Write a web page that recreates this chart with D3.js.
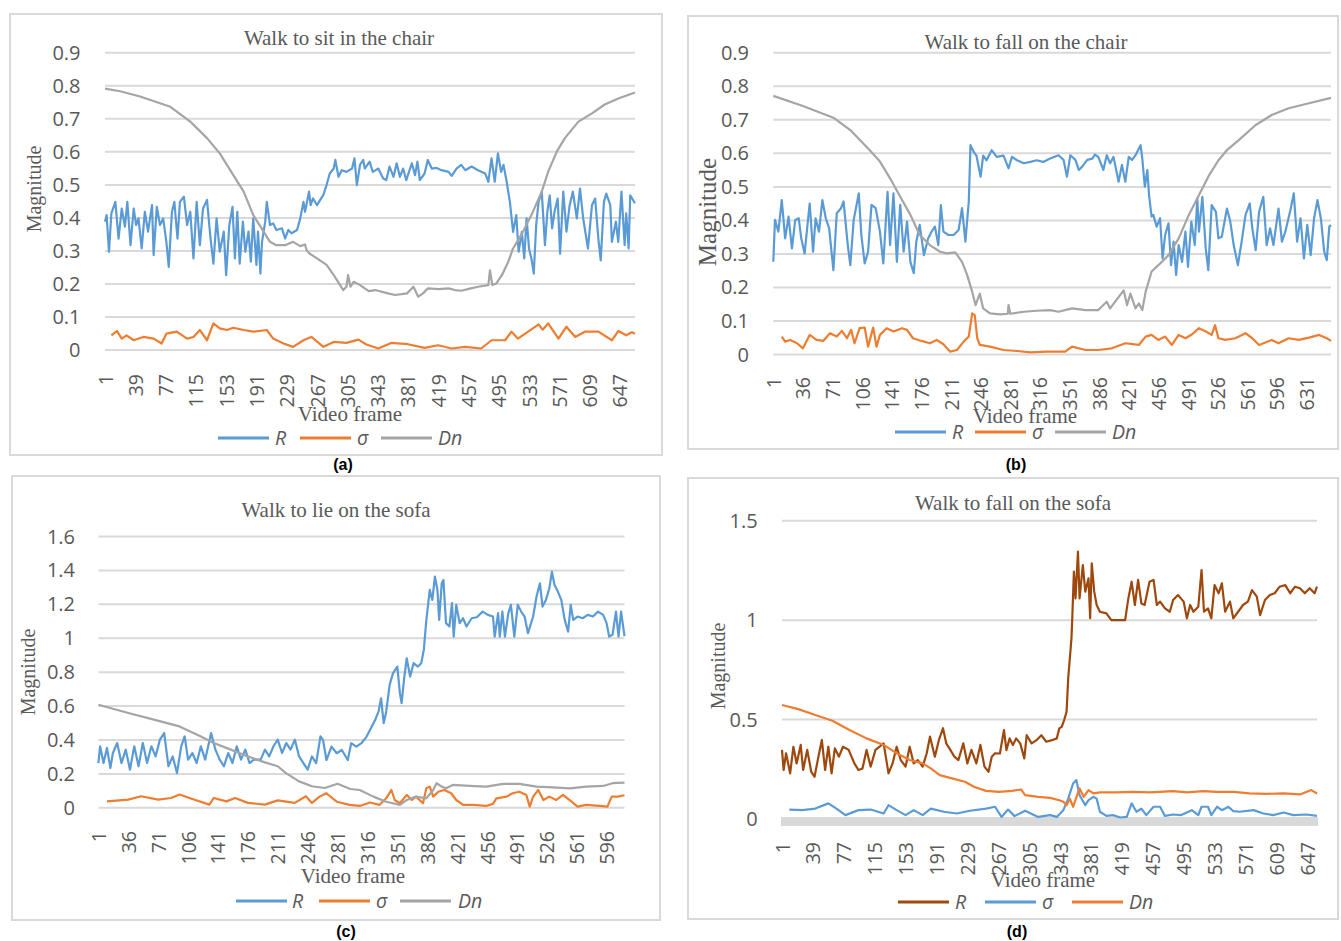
<!DOCTYPE html>
<html><head><meta charset="utf-8">
<script src="https://cdn.jsdelivr.net/npm/d3@7"></script>
<style>body{margin:0;background:#fff}svg{display:block}</style>
</head><body>
<svg id="chart" width="1341" height="941"></svg>
<script>
// ---------------- DATA (frame, value) ----------------
const seriesNames = ["R", "σ", "Dn"];
const titles = ["Walk to sit in the chair", "Walk to fall on the chair", "Walk to lie on the sofa", "Walk to fall on the sofa"];
const captions = ["(a)", "(b)", "(c)", "(d)"];
const frameCounts = [666, 660, 617, 659];
const xTicksA = [1,39,77,115,153,191,229,267,305,343,381,419,457,495,533,571,609,647];
const xTicksB = [1,36,71,106,141,176,211,246,281,316,351,386,421,456,491,526,561,596,631];
const xTicksC = [1,36,71,106,141,176,211,246,281,316,351,386,421,456,491,526,561,596];
const xTicksD = [1,39,77,115,153,191,229,267,305,343,381,419,457,495,533,571,609,647];
const yTicksAB = [0,0.1,0.2,0.3,0.4,0.5,0.6,0.7,0.8,0.9];
const yLabelsAB = ["0","0.1","0.2","0.3","0.4","0.5","0.6","0.7","0.8","0.9"];
const yTicksC = [0,0.2,0.4,0.6,0.8,1,1.2,1.4,1.6];
const yLabelsC = ["0","0.2","0.4","0.6","0.8","1","1.2","1.4","1.6"];
const yTicksD = [0,0.5,1,1.5];
const yLabelsD = ["0","0.5","1","1.5"];

const aR = [[1,.387],[3,.407],[6,.296],[9,.412],[14,.447],[18,.336],[22,.427],[26,.372],[29,.447],[33,.316],[37,.427],[40,.377],[43,.397],[47,.306],[51,.417],[55,.357],[60,.437],[62,.286],[66,.432],[70,.377],[74,.397],[78,.326],[81,.25],[85,.417],[88,.447],[92,.336],[95,.447],[100,.463],[104,.377],[108,.417],[112,.276],[116,.447],[120,.316],[124,.427],[129,.453],[133,.346],[137,.26],[141,.397],[145,.296],[150,.357],[153,.225],[157,.377],[161,.432],[164,.276],[167,.417],[170,.26],[174,.387],[177,.296],[181,.357],[184,.266],[187,.397],[191,.256],[193,.357],[196,.23],[198,.326],[202,.387],[204,.447],[208,.377],[212,.382],[216,.362],[223,.367],[227,.336],[231,.362],[235,.352],[242,.362],[246,.397],[250,.447],[252,.417],[257,.478],[259,.437],[262,.458],[267,.437],[271,.453],[275,.468],[279,.498],[283,.533],[288,.548],[290,.574],[294,.523],[298,.543],[304,.538],[311,.548],[314,.579],[317,.498],[321,.559],[325,.574],[327,.548],[333,.569],[337,.538],[344,.548],[350,.518],[354,.513],[358,.554],[363,.523],[367,.564],[371,.523],[375,.548],[379,.513],[386,.564],[390,.528],[393,.569],[396,.513],[402,.533],[406,.574],[411,.548],[417,.55],[423,.543],[432,.538],[436,.526],[442,.548],[448,.559],[453,.543],[461,.554],[469,.543],[478,.533],[482,.508],[486,.579],[490,.508],[494,.594],[498,.538],[501,.559],[505,.508],[509,.447],[513,.356],[517,.407],[520,.296],[524,.356],[527,.276],[530,.397],[533,.306],[536,.276],[539,.23],[542,.377],[545,.447],[549,.478],[553,.316],[556,.417],[559,.467],[562,.367],[565,.417],[569,.457],[572,.29],[576,.478],[580,.357],[584,.437],[588,.478],[593,.397],[597,.487],[601,.397],[605,.336],[607,.306],[612,.437],[616,.457],[620,.336],[623,.27],[627,.447],[630,.472],[635,.437],[637,.326],[642,.387],[645,.326],[649,.478],[653,.316],[655,.412],[658,.306],[660,.467],[666,.443]];
const aSigma = [[9,.043],[16,.056],[22,.033],[28,.043],[37,.028],[49,.038],[62,.033],[72,.018],[78,.048],[91,.054],[104,.033],[112,.038],[120,.059],[129,.028],[137,.079],[145,.064],[154,.059],[162,.066],[175,.059],[187,.054],[204,.059],[212,.033],[225,.018],[237,.008],[250,.028],[260,.038],[275,.008],[288,.023],[304,.02],[319,.03],[329,.015],[344,.003],[360,.02],[381,.016],[402,.005],[419,.013],[436,.003],[453,.008],[473,.003],[486,.028],[503,.028],[511,.054],[519,.033],[532,.054],[545,.076],[550,.06],[557,.079],[570,.033],[580,.069],[591,.038],[603,.054],[620,.054],[637,.028],[645,.056],[655,.043],[662,.052],[666,.048]];
const aDn = [[1,.79],[20,.782],[45,.766],[83,.735],[108,.69],[129,.64],[145,.594],[162,.528],[175,.478],[187,.407],[200,.357],[208,.326],[216,.316],[227,.316],[237,.326],[246,.313],[252,.318],[254,.3],[258,.29],[267,.276],[279,.256],[288,.225],[296,.195],[300,.18],[304,.19],[306,.225],[309,.19],[313,.205],[321,.195],[332,.177],[340,.18],[356,.17],[365,.165],[380,.17],[388,.19],[394,.16],[400,.17],[406,.185],[420,.183],[432,.185],[440,.18],[448,.178],[460,.185],[469,.19],[482,.195],[484,.24],[487,.195],[492,.2],[499,.225],[507,.266],[513,.306],[524,.35],[536,.407],[549,.478],[557,.538],[568,.6],[578,.64],[595,.69],[612,.715],[628,.742],[645,.76],[666,.778]];

const bR = [[1,.275],[3,.4],[7,.365],[11,.459],[15,.345],[19,.41],[23,.315],[27,.4],[31,.405],[34,.345],[38,.3],[44,.449],[48,.305],[51,.405],[55,.365],[59,.459],[63,.405],[67,.375],[72,.25],[76,.42],[81,.435],[84,.455],[89,.325],[92,.265],[96,.4],[102,.479],[105,.355],[109,.27],[113,.305],[117,.445],[122,.435],[127,.365],[131,.27],[136,.484],[139,.325],[143,.479],[147,.275],[151,.445],[155,.305],[159,.395],[163,.275],[167,.241],[170,.335],[174,.385],[179,.295],[184,.345],[188,.365],[192,.38],[196,.325],[199,.444],[202,.365],[208,.355],[214,.355],[220,.37],[224,.435],[228,.335],[232,.455],[234,.623],[238,.602],[241,.592],[246,.529],[249,.592],[253,.578],[259,.608],[265,.588],[273,.592],[279,.554],[283,.588],[289,.578],[297,.569],[305,.573],[312,.578],[320,.573],[328,.583],[338,.593],[344,.579],[348,.529],[352,.593],[358,.579],[362,.549],[366,.559],[372,.579],[378,.583],[381,.595],[385,.588],[391,.549],[395,.593],[399,.569],[403,.588],[409,.514],[413,.564],[417,.514],[421,.588],[425,.579],[429,.593],[435,.623],[437,.583],[440,.499],[443,.549],[445,.474],[448,.41],[450,.415],[454,.38],[458,.405],[461,.285],[464,.355],[468,.39],[471,.265],[474,.335],[477,.236],[480,.325],[484,.275],[488,.365],[491,.26],[495,.395],[499,.325],[502,.464],[504,.365],[508,.469],[512,.315],[515,.25],[519,.444],[524,.424],[527,.345],[531,.35],[537,.434],[541,.395],[545,.325],[550,.265],[555,.345],[559,.415],[564,.449],[567,.375],[571,.31],[575,.424],[580,.469],[584,.325],[588,.375],[592,.325],[598,.434],[602,.335],[606,.365],[612,.429],[616,.479],[620,.335],[624,.405],[628,.285],[632,.385],[636,.295],[640,.405],[644,.459],[648,.405],[652,.305],[655,.28],[658,.38],[660,.385]];
const bSigma = [[11,.052],[15,.037],[21,.042],[29,.032],[36,.017],[44,.057],[52,.042],[60,.039],[68,.062],[76,.052],[82,.069],[88,.047],[93,.072],[97,.032],[103,.077],[109,.079],[113,.022],[119,.079],[123,.022],[127,.057],[135,.077],[143,.067],[153,.077],[159,.072],[166,.047],[176,.039],[186,.032],[194,.042],[202,.029],[210,.007],[218,.012],[226,.037],[232,.052],[236,.121],[239,.116],[242,.047],[245,.027],[257,.022],[273,.012],[289,.009],[305,.005],[324,.007],[346,.007],[354,.022],[370,.012],[385,.012],[401,.017],[417,.032],[433,.027],[441,.052],[448,.057],[456,.042],[464,.052],[472,.027],[480,.057],[488,.047],[496,.059],[504,.077],[512,.067],[519,.057],[523,.086],[527,.047],[535,.042],[547,.047],[559,.062],[567,.047],[575,.027],[590,.042],[598,.032],[610,.047],[622,.042],[634,.049],[646,.057],[655,.047],[660,.039]];
const bDn = [[1,.77],[36,.74],[72,.705],[92,.668],[115,.608],[127,.574],[139,.524],[151,.469],[163,.415],[174,.355],[186,.325],[198,.305],[206,.3],[216,.303],[224,.275],[230,.236],[236,.186],[240,.146],[245,.18],[249,.136],[257,.121],[269,.118],[278,.12],[279,.146],[281,.12],[297,.126],[312,.129],[328,.131],[338,.126],[354,.136],[370,.131],[385,.131],[395,.156],[399,.136],[415,.19],[419,.146],[423,.18],[429,.136],[433,.151],[437,.131],[441,.186],[448,.246],[456,.265],[468,.295],[480,.345],[492,.415],[504,.474],[515,.529],[527,.578],[537,.608],[551,.638],[571,.683],[590,.713],[610,.733],[634,.748],[660,.764]];

const cR = [[1,.261],[3,.36],[7,.261],[11,.35],[15,.232],[18,.32],[23,.379],[28,.261],[33,.34],[38,.222],[43,.36],[48,.242],[53,.379],[58,.261],[63,.36],[68,.3],[73,.399],[78,.438],[83,.242],[88,.3],[93,.202],[98,.36],[102,.418],[106,.281],[111,.32],[116,.261],[121,.36],[126,.281],[133,.438],[138,.34],[143,.281],[148,.242],[153,.32],[158,.261],[163,.36],[168,.281],[173,.34],[178,.261],[183,.281],[191,.281],[196,.34],[201,.3],[206,.36],[211,.399],[216,.32],[221,.379],[226,.34],[231,.399],[236,.3],[241,.261],[246,.222],[251,.3],[256,.261],[261,.418],[264,.397],[268,.279],[274,.358],[280,.319],[286,.338],[293,.279],[297,.378],[303,.358],[309,.378],[315,.417],[319,.456],[325,.515],[329,.564],[332,.643],[335,.496],[338,.564],[342,.722],[346,.791],[351,.83],[354,.673],[356,.614],[359,.761],[362,.879],[366,.771],[370,.85],[375,.83],[379,.85],[382,.928],[385,1.105],[389,1.282],[392,1.223],[395,1.361],[398,1.282],[400,1.105],[403,1.321],[405,1.341],[408,1.086],[412,1.066],[415,1.204],[417,1.007],[420,1.194],[424,1.086],[428,1.115],[432,1.066],[438,1.115],[444,1.121],[451,1.154],[457,1.135],[463,1.125],[465,1.007],[469,1.145],[471,1.007],[474,1.154],[477,1.007],[481,1.145],[484,1.194],[488,1.007],[492,1.194],[496,1.154],[500,1.125],[504,1.027],[510,1.125],[514,1.243],[518,1.321],[521,1.184],[525,1.223],[529,1.292],[532,1.39],[535,1.312],[539,1.272],[543,1.223],[547,1.105],[551,1.036],[554,1.194],[557,1.105],[562,1.125],[568,1.115],[574,1.135],[580,1.125],[586,1.154],[592,1.135],[596,1.086],[599,1.007],[603,1.017],[607,1.154],[610,1.007],[613,1.154],[617,1.01]];
const cSigma = [[11,.035],[36,.045],[51,.065],[71,.045],[86,.055],[96,.075],[111,.049],[131,.016],[136,.055],[151,.035],[161,.055],[176,.026],[196,.016],[211,.041],[231,.026],[244,.065],[251,.026],[260,.063],[268,.083],[280,.033],[295,.014],[307,.008],[319,.028],[330,.014],[338,.053],[344,.102],[348,.043],[354,.024],[362,.073],[368,.043],[373,.063],[381,.024],[385,.112],[389,.122],[393,.063],[399,.092],[406,.102],[414,.083],[420,.043],[428,.014],[440,.014],[455,.008],[463,.02],[467,.053],[479,.063],[486,.083],[494,.092],[502,.073],[506,.004],[510,.063],[516,.102],[522,.043],[529,.063],[537,.043],[545,.073],[555,.033],[562,.004],[572,.014],[588,.008],[597,.004],[602,.063],[609,.063],[617,.071]];
const cDn = [[1,.605],[36,.556],[66,.517],[96,.477],[121,.418],[136,.379],[156,.34],[176,.3],[196,.265],[211,.242],[221,.2],[236,.153],[251,.124],[266,.114],[281,.139],[296,.108],[307,.102],[323,.063],[338,.033],[354,.014],[362,.043],[373,.063],[385,.053],[393,.102],[397,.142],[403,.122],[408,.112],[416,.132],[436,.126],[455,.122],[475,.138],[494,.138],[514,.122],[533,.118],[553,.112],[572,.122],[592,.126],[603,.142],[617,.146]];

const dR = [[1,.345],[3,.244],[6,.328],[11,.227],[15,.361],[19,.277],[24,.37],[27,.244],[32,.345],[37,.235],[41,.21],[45,.294],[50,.395],[54,.244],[58,.361],[62,.227],[66,.353],[71,.311],[76,.361],[83,.345],[90,.277],[95,.244],[100,.252],[105,.345],[110,.261],[116,.345],[121,.361],[126,.378],[132,.227],[137,.277],[142,.361],[147,.294],[153,.261],[158,.361],[163,.277],[168,.294],[174,.261],[179,.328],[183,.412],[189,.311],[194,.395],[199,.454],[203,.378],[208,.345],[213,.311],[218,.294],[224,.378],[229,.277],[234,.345],[240,.277],[245,.37],[250,.261],[255,.235],[259,.311],[263,.328],[269,.327],[274,.445],[277,.344],[281,.403],[285,.369],[289,.403],[294,.378],[299,.302],[302,.419],[308,.378],[314,.394],[320,.419],[326,.386],[333,.394],[339,.403],[342,.453],[345,.461],[348,.495],[351,.537],[353,.705],[355,.805],[357,.906],[358,1.007],[360,1.242],[362,1.107],[365,1.342],[367,1.107],[371,1.275],[374,1.141],[378,1.208],[380,1.007],[382,1.284],[385,1.141],[388,1.074],[392,1.04],[400,1.032],[406,.998],[415,.998],[423,.998],[427,1.107],[431,1.191],[435,1.074],[439,1.2],[443,1.082],[447,1.074],[453,1.191],[458,1.2],[462,1.074],[466,1.091],[472,1.057],[478,1.04],[482,1.099],[488,1.124],[495,1.091],[499,1.007],[503,1.074],[507,1.04],[513,1.065],[517,1.25],[520,1.04],[525,1.057],[529,1.007],[533,1.174],[538,1.133],[542,1.183],[546,1.04],[552,1.091],[556,1.007],[562,1.04],[568,1.074],[574,1.091],[579,1.149],[585,1.116],[589,1.023],[595,1.099],[601,1.124],[607,1.133],[613,1.166],[620,1.174],[626,1.133],[632,1.166],[638,1.158],[644,1.133],[650,1.158],[656,1.133],[659,1.166]];
const dSigma = [[10,.045],[26,.042],[42,.05],[58,.076],[68,.05],[79,.017],[95,.042],[110,.045],[126,.025],[132,.067],[142,.042],[153,.017],[163,.042],[174,.017],[184,.05],[200,.034],[216,.025],[232,.039],[252,.05],[263,.059],[271,.008],[279,.045],[287,.012],[300,.039],[316,.008],[331,.017],[339,.008],[347,.042],[353,.1],[359,.176],[363,.193],[367,.117],[374,.067],[378,.092],[384,.109],[388,.1],[392,.034],[400,.013],[408,.017],[417,.005],[425,.008],[431,.076],[437,.034],[443,.05],[449,.017],[458,.059],[466,.059],[472,.013],[482,.02],[492,.017],[505,.042],[513,.017],[517,.059],[525,.059],[529,.017],[536,.059],[542,.042],[550,.059],[556,.037],[564,.034],[581,.042],[593,.025],[605,.017],[618,.03],[630,.017],[646,.02],[659,.013]];
const dDn = [[1,.571],[21,.55],[42,.521],[63,.492],[84,.445],[105,.403],[126,.37],[142,.328],[158,.294],[174,.277],[184,.252],[195,.218],[210,.202],[226,.185],[237,.16],[252,.139],[268,.134],[284,.139],[295,.146],[300,.118],[316,.109],[331,.104],[342,.092],[347,.084],[351,.067],[355,.1],[359,.059],[364,.117],[367,.151],[372,.109],[378,.143],[384,.126],[392,.131],[412,.131],[433,.134],[453,.131],[482,.138],[499,.131],[519,.138],[536,.134],[556,.134],[576,.126],[597,.124],[618,.126],[638,.121],[652,.143],[659,.126]];

// ---------------- LAYOUT ----------------
const BLUE = "#5b9bd5", ORANGE = "#ed7d31", GRAY = "#a5a5a5", BROWN = "#9e480e";
const TXT = "#595959";
const panels = [
  {box:[10,14,662,455], x0:105, x1:635, y0:349.5, y1:52.3, ymax:0.9, yt:yTicksAB, yl:yLabelsAB, xt:xTicksA, N:frameCounts[0],
   title:titles[0], tx:339, ty:45, magX:35, magY:189, magSize:20, vfX:350, vfY:421, xlabTop:374, labRight:80.5,
   series:[{d:aR,c:BLUE},{d:aSigma,c:ORANGE},{d:aDn,c:GRAY}], legY:438, legLines:[218,300,381], legTexts:[275,357,438],
   cap:captions[0], capX:343, capY:470},
  {box:[688,16,1338,449], x0:773.3, x1:1331, y0:354, y1:52.3, ymax:0.9, yt:yTicksAB, yl:yLabelsAB, xt:xTicksB, N:frameCounts[1],
   title:titles[1], tx:1026, ty:49, magX:708, magY:212, magSize:25, vfX:1025, vfY:423, xlabTop:377, labRight:749,
   series:[{d:bR,c:BLUE},{d:bSigma,c:ORANGE},{d:bDn,c:GRAY}], legY:432, legLines:[895,975,1055], legTexts:[952,1032,1112],
   cap:captions[1], capX:1016, capY:470},
  {box:[12,476,660,920], x0:98.4, x1:624.5, y0:807.3, y1:536, ymax:1.6, yt:yTicksC, yl:yLabelsC, xt:xTicksC, N:frameCounts[2],
   title:titles[2], tx:336, ty:517, magX:28.5, magY:672, magSize:20, vfX:353, vfY:883, xlabTop:831, labRight:75,
   series:[{d:cR,c:BLUE},{d:cSigma,c:ORANGE},{d:cDn,c:GRAY}], legY:901, legLines:[236,319,400], legTexts:[292,376,458],
   cap:captions[2], capX:346, capY:937},
  {box:[688,478,1338,919], x0:782, x1:1317, y0:818.5, y1:520.3, ymax:1.5, yt:yTicksD, yl:yLabelsD, xt:xTicksD, N:frameCounts[3],
   title:titles[3], tx:1013, ty:510, magX:719, magY:666, magSize:20, vfX:1043, vfY:887, xlabTop:842, labRight:757.7, thickAxis:true,
   series:[{d:dR,c:BROWN},{d:dSigma,c:BLUE},{d:dDn,c:ORANGE}], legY:902, legLines:[898,985,1072], legTexts:[955,1042,1129],
   cap:captions[3], capX:1017, capY:937}
];

const svg = d3.select("#chart");
svg.append("rect").attr("width",1341).attr("height",941).attr("fill","#fff");

panels.forEach(p => {
  const g = svg.append("g");
  g.append("rect").attr("x",p.box[0]).attr("y",p.box[1])
    .attr("width",p.box[2]-p.box[0]).attr("height",p.box[3]-p.box[1])
    .attr("fill","none").attr("stroke","#d9d9d9").attr("stroke-width",2);

  const x = d3.scaleLinear().domain([1,p.N]).range([p.x0,p.x1]);
  const y = d3.scaleLinear().domain([0,p.ymax]).range([p.y0,p.y1]);

  const ya = g.append("g").attr("transform",`translate(${p.x0},0)`)
    .call(d3.axisLeft(y).tickValues(p.yt).tickSize(-(p.x1-p.x0)).tickPadding(p.x0-p.labRight)
      .tickFormat((d,i)=>p.yl[i]));
  ya.select(".domain").remove();
  ya.selectAll(".tick line").attr("stroke","#d9d9d9").attr("stroke-width",2);
  ya.selectAll(".tick text").attr("fill",TXT).attr("font-family","'Open Sans', sans-serif").attr("font-size",20).attr("dy","0.35em");

  if (p.thickAxis) {
    g.append("rect").attr("x",p.x0-1).attr("y",p.y0-1.5).attr("width",p.x1-p.x0+2).attr("height",9).attr("fill","#d9d9d9");
  }

  const xa = g.append("g").attr("transform",`translate(0,${p.y0})`)
    .call(d3.axisBottom(x).tickValues(p.xt).tickSize(0).tickFormat(d=>String(d)));
  xa.select(".domain").remove();
  xa.selectAll(".tick text")
    .attr("transform","rotate(-90)").attr("text-anchor","end")
    .attr("x",-(p.xlabTop-p.y0)).attr("y",0).attr("dy","0.36em")
    .attr("fill",TXT).attr("font-family","'Open Sans', sans-serif").attr("font-size",19.5);

  const line = d3.line().x(d=>x(d[0])).y(d=>y(d[1]));
  p.series.forEach(s => {
    g.append("path").attr("d",line(s.d)).attr("fill","none").attr("stroke",s.c)
      .attr("stroke-width",2.2).attr("stroke-linejoin","round");
  });

  g.append("text").attr("x",p.tx).attr("y",p.ty).attr("text-anchor","middle")
    .attr("font-family","'Liberation Serif', 'Times New Roman', serif").attr("font-size",21).attr("fill",TXT).text(p.title);
  g.append("text").attr("transform",`translate(${p.magX},${p.magY}) rotate(-90)`).attr("text-anchor","middle").attr("dy","0.32em")
    .attr("font-family","'Liberation Serif', serif").attr("font-size",p.magSize).attr("fill",TXT).text("Magnitude");
  g.append("text").attr("x",p.vfX).attr("y",p.vfY).attr("text-anchor","middle")
    .attr("font-family","'Liberation Serif', serif").attr("font-size",21).attr("fill",TXT).text("Video frame");

  p.series.forEach((s,i) => {
    g.append("line").attr("x1",p.legLines[i]).attr("x2",p.legLines[i]+51).attr("y1",p.legY).attr("y2",p.legY)
      .attr("stroke",s.c).attr("stroke-width",3);
    g.append("text").attr("x",p.legTexts[i]).attr("y",p.legY).attr("dy","0.35em")
      .attr("font-family","'Open Sans', sans-serif").attr("font-style","italic").attr("font-size",19.5)
      .attr("fill",TXT).text(seriesNames[i]);
  });

  g.append("text").attr("x",p.capX).attr("y",p.capY).attr("text-anchor","middle")
    .attr("font-family","'Liberation Sans', Arial, sans-serif").attr("font-weight","bold").attr("font-size",16)
    .attr("fill","#000").text(p.cap);
});
</script>
</body></html>
